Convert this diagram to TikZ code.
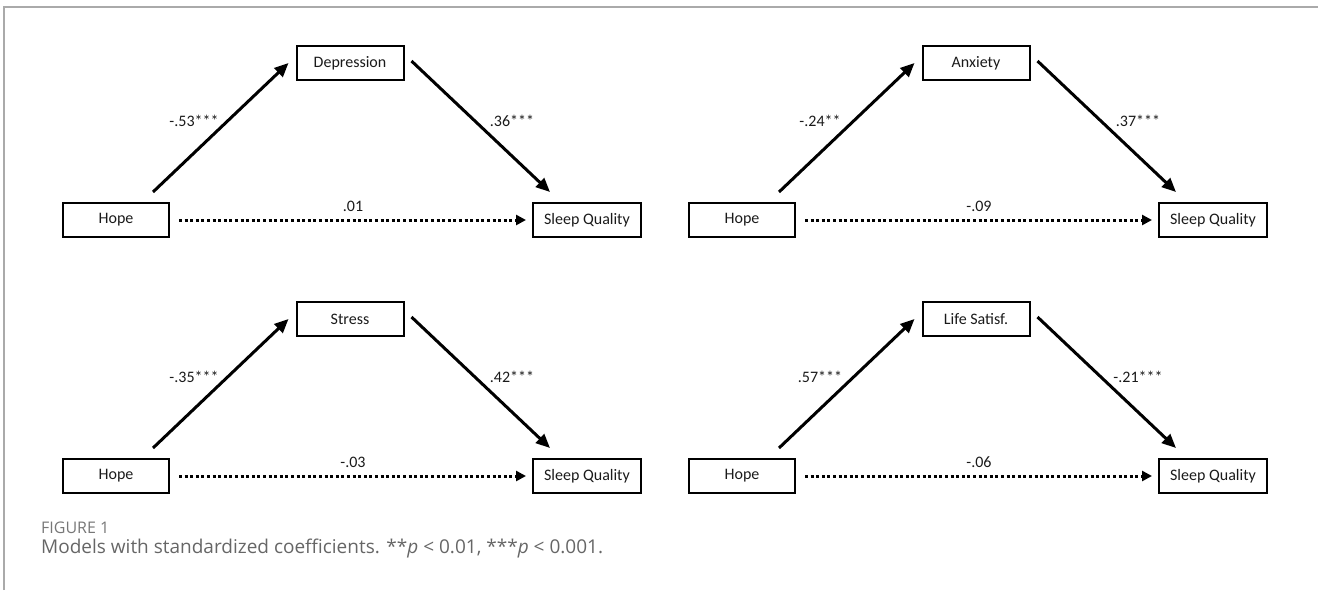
\documentclass[tikz,border=0pt]{standalone}
\usepackage{fontspec}
\setmainfont{Carlito}
\newfontfamily\capfont{Open Sans}
\usetikzlibrary{arrows.meta}
\definecolor{framegray}{HTML}{AAAAAA}
\definecolor{capgray}{HTML}{666666}
\definecolor{figgray}{HTML}{777777}
\definecolor{ink}{HTML}{1A1A1A}
\begin{document}
\begin{tikzpicture}[x=1pt,y=-1pt,
  box/.style={draw=black, line width=2pt, minimum height=34pt, inner sep=0pt, text=ink, font=\fontsize{16}{19}\selectfont},
  hopebox/.style={box, minimum width=106pt},
  medbox/.style={box, minimum width=107pt},
  sqbox/.style={box, minimum width=108pt},
  arr/.style={line width=3pt, -{Triangle[length=14pt,width=12pt]}},
  dotarr/.style={line width=3pt, dash pattern=on 3pt off 2.6pt, -{Triangle[length=10pt,width=10pt]}},
  coef/.style={text=ink, inner sep=0pt, font=\fontsize{16}{19}\selectfont}]
\useasboundingbox (0,0) rectangle (1318,590);
% frame
\draw[framegray, line width=2pt] (4,590) -- (4,7) -- (1318,7);

% ---------- panel 1 ----------
\node[hopebox] (h1) at (116,220) {Hope};
\node[medbox] (m1) at (350,63) {Depression};
\node[sqbox] (s1) at (587,220) {Sleep Quality};
\draw[arr] ([xshift=37pt,yshift=10pt]h1.north) -- ([xshift=-7pt]m1.west);
\draw[arr] ([xshift=7pt,yshift=2pt]m1.east) -- ([xshift=-37pt,yshift=10pt]s1.north);
\draw[dotarr] ([xshift=9pt]h1.east) -- ([xshift=-6pt]s1.west);
\node[coef] (a1) at (194,121) {-.53***};
\node[coef] (b1) at (512,121) {.36***};
\node[coef] (c1) at (353,206) {.01};

% ---------- panel 2 ----------
\node[hopebox] (h2) at (742,220) {Hope};
\node[medbox] (m2) at (976,63) {Anxiety};
\node[sqbox] (s2) at (1213,220) {Sleep Quality};
\draw[arr] ([xshift=37pt,yshift=10pt]h2.north) -- ([xshift=-7pt]m2.west);
\draw[arr] ([xshift=7pt,yshift=2pt]m2.east) -- ([xshift=-37pt,yshift=10pt]s2.north);
\draw[dotarr] ([xshift=9pt]h2.east) -- ([xshift=-6pt]s2.west);
\node[coef] (a2) at (820,121) {-.24**};
\node[coef] (b2) at (1138,121) {.37***};
\node[coef] (c2) at (979,206) {-.09};

% ---------- panel 3 ----------
\node[hopebox] (h3) at (116,476) {Hope};
\node[medbox] (m3) at (350,319) {Stress};
\node[sqbox] (s3) at (587,476) {Sleep Quality};
\draw[arr] ([xshift=37pt,yshift=10pt]h3.north) -- ([xshift=-7pt]m3.west);
\draw[arr] ([xshift=7pt,yshift=2pt]m3.east) -- ([xshift=-37pt,yshift=10pt]s3.north);
\draw[dotarr] ([xshift=9pt]h3.east) -- ([xshift=-6pt]s3.west);
\node[coef] (a3) at (194,377) {-.35***};
\node[coef] (b3) at (512,377) {.42***};
\node[coef] (c3) at (353,462) {-.03};

% ---------- panel 4 ----------
\node[hopebox] (h4) at (742,476) {Hope};
\node[medbox] (m4) at (976,319) {Life Satisf.};
\node[sqbox] (s4) at (1213,476) {Sleep Quality};
\draw[arr] ([xshift=37pt,yshift=10pt]h4.north) -- ([xshift=-7pt]m4.west);
\draw[arr] ([xshift=7pt,yshift=2pt]m4.east) -- ([xshift=-37pt,yshift=10pt]s4.north);
\draw[dotarr] ([xshift=9pt]h4.east) -- ([xshift=-6pt]s4.west);
\node[coef] (a4) at (820,377) {.57***};
\node[coef] (b4) at (1138,377) {-.21***};
\node[coef] (c4) at (979,462) {-.06};

% ---------- caption ----------
\node[anchor=base west, inner sep=0pt, text=figgray, font=\capfont\fontsize{16}{18}\selectfont] (fig) at (41,533) {FIGURE 1};
\node[anchor=base west, inner sep=0pt, text=capgray, font=\capfont\fontsize{19}{22}\selectfont] (cap) at (41,553) {Models with standardized coefficients. **\textit{p} < 0.01, ***\textit{p} < 0.001.};
\end{tikzpicture}
\end{document}
